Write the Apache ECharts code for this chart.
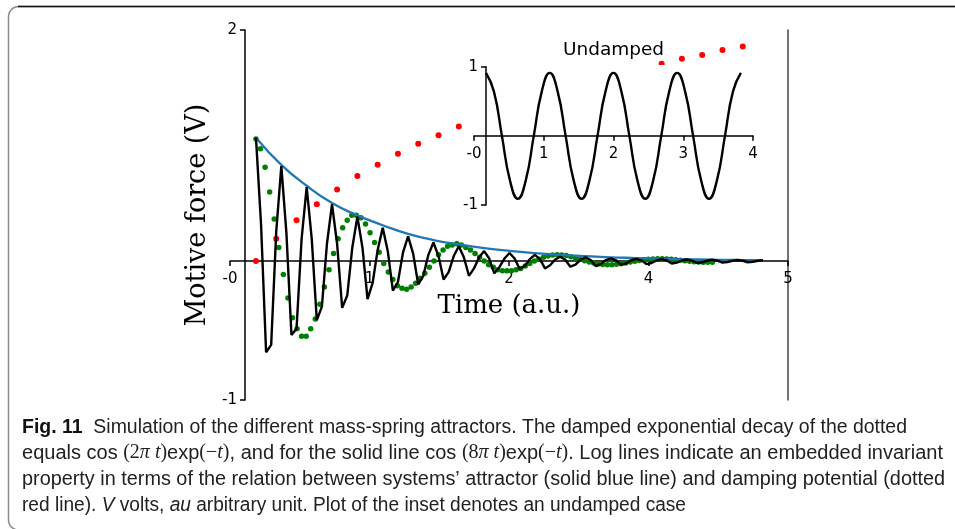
<!DOCTYPE html>
<html>
<head>
<meta charset="utf-8">
<script src="https://cdn.jsdelivr.net/npm/echarts@6/dist/echarts.min.js"></script>
<style>
	html, body { margin: 0; padding: 0; background: #fff; }
	#chart { width: 955px; height: 529px; }
</style>
</head>
<body>
<div id="chart"></div>
<script>
// tick labels as printed on the figure
var xTickLabels = ['-0', '1', '2', '4', '5'];
var yTickLabels = ['-1', '2'];
var insetXTickLabels = ['-0', '1', '2', '3', '4'];
var insetYTickLabels = ['-1', '1'];

// solid black line, sampled every 0.05 time units from t = 0
var blackStep = 0.05;
var blackValues = [
	1.00, 0.30, -0.74, -0.68, 0.24,  0.77, 0.23, -0.60, -0.55, 0.18,
	0.60, 0.18, -0.48, -0.37, 0.14,  0.46, 0.14, -0.38, -0.28, 0.11,
	0.36, 0.11, -0.31, -0.18, 0.09,  0.27, 0.08, -0.24, -0.17, 0.07,
	0.20, 0.06, -0.19, -0.12, 0.05,  0.15, 0.04, -0.15, -0.09, 0.04,
	0.12, 0.03, -0.12, -0.06, 0.03,  0.08, 0.02, -0.10, -0.05, 0.02,
	0.065, 0.02, -0.065, -0.04, 0.015,  0.05, 0.015, -0.06, -0.035, 0.012,
	0.035, 0.01, -0.046, -0.03, 0.01,  0.03, 0.008, -0.041, -0.025, 0.008,
	0.022, 0.006, -0.03, -0.02, 0.006,  0.018, 0.005, -0.025, -0.016, 0.005,
	0.015, 0.004, -0.02, -0.013, 0.004,  0.012, 0.003, -0.016, -0.01, 0.003,
	0.01, 0.003, -0.013, -0.008, 0.002,  0.008, 0.002, -0.01, -0.006, 0.002,
	0.006
];

// green dots, every 0.045 time units from t = 0
var greenStep = 0.045;
var greenValues = [
	0.99, 0.91, 0.76, 0.56, 0.34, 0.11, -0.11, -0.30, -0.46, -0.55,
	-0.61, -0.61, -0.55, -0.47, -0.35, -0.21, -0.07, 0.06, 0.18, 0.27,
	0.33, 0.37, 0.37, 0.35, 0.30, 0.23, 0.15, 0.07, -0.02, -0.09,
	-0.15, -0.20, -0.22, -0.23, -0.21, -0.18, -0.14, -0.10, -0.05, 0.00,
	0.05, 0.09, 0.12, 0.13, 0.14, 0.13, 0.11, 0.09, 0.06, 0.03,
	0.00, -0.03, -0.05, -0.07, -0.08, -0.08, -0.08, -0.07, -0.06, -0.04,
	-0.02, 0.00, 0.015, 0.03, 0.04, 0.048, 0.05, 0.049, 0.044, 0.035,
	0.025, 0.014, 0.002, -0.008, -0.017, -0.024, -0.029, -0.031, -0.03, -0.027,
	-0.022, -0.016, -0.009, -0.002, 0.004, 0.01, 0.014, 0.017, 0.018, 0.018,
	0.017, 0.014, 0.01, 0.006, 0.002, -0.002, -0.006, -0.008, -0.01, -0.011,
	-0.011
];

// blue envelope
var blueTimes = [0, 0.25, 0.5, 0.75, 1, 1.25, 1.5, 1.75, 2, 2.25, 2.5, 2.75, 3, 3.25, 3.5, 3.75, 4, 4.25, 4.5, 4.75, 5];
var blueValues = [1.00, 0.78, 0.61, 0.47, 0.37, 0.29, 0.22, 0.17, 0.135, 0.105, 0.082, 0.064, 0.05, 0.039, 0.03, 0.024, 0.018, 0.014, 0.011, 0.009, 0.007];

// red dots (the ones behind the inset are not visible)
var redTimes = [0, 0.2, 0.4, 0.6, 0.8, 1.0, 1.2, 1.4, 1.6, 1.8, 2.0, 4.0, 4.2, 4.4, 4.6, 4.8];
var redValues = [0, 0.18, 0.33, 0.46, 0.58, 0.69, 0.78, 0.87, 0.95, 1.02, 1.09, 1.60, 1.64, 1.67, 1.71, 1.74];

// inset: undamped case, every 1/8 period
var insetStep = 0.125;
var insetValues = [
	0.91, 0.64, 0, -0.64, -0.91, -0.64, 0, 0.64,
	0.91, 0.64, 0, -0.64, -0.91, -0.64, 0, 0.64,
	0.91, 0.64, 0, -0.64, -0.91, -0.64, 0, 0.64,
	0.91, 0.64, 0, -0.64, -0.91, -0.64, 0, 0.64,
	0.91
];

function spread(min, max, n) {
	var a = [];
	for (var i = 0; i < n; i++) a.push(min + (max - min) * i / (n - 1));
	return a;
}
function labeler(ticks, labels) {
	return function(v) {
		var best = 0;
		for (var i = 1; i < ticks.length; i++) {
			if (Math.abs(ticks[i] - v) < Math.abs(ticks[best] - v)) best = i;
		}
		return labels[best];
	};
}
function pairs(step, values) {
	var out = [];
	for (var i = 0; i < values.length; i++) out.push([+(i * step).toFixed(4), values[i]]);
	return out;
}
function zip(xs, ys) {
	var out = [];
	for (var i = 0; i < xs.length; i++) out.push([xs[i], ys[i]]);
	return out;
}

var X_MIN = -0.256, X_MAX = 5.246, Y_MIN = -1.127, Y_MAX = 1.873;
var IX_MIN = -0.188, IX_MAX = 4.19, IY_MIN = -1, IY_MAX = 1;
var xTicks = spread(X_MIN, X_MAX, xTickLabels.length);
var yTicks = [Y_MIN, Y_MAX];
var ixTicks = spread(IX_MIN, IX_MAX, insetXTickLabels.length);
var iyTicks = [IY_MIN, IY_MAX];

var tickFont = { fontFamily: 'DejaVu Sans', fontSize: 15, color: '#000' };
var axisLine = { color: '#000', width: 1.5 };

// caption, one entry per printed line: [style, text] pieces
var sans = "'Liberation Sans', sans-serif";
var serif = "'Liberation Serif', serif";
var capStyles = {
	b: { fontFamily: sans, fontSize: 20, fontWeight: 'bold', fill: '#111' },
	n: { fontFamily: sans, fontSize: 20, fill: '#222' },
	i: { fontFamily: sans, fontSize: 20, fontStyle: 'italic', fill: '#222' },
	m: { fontFamily: serif, fontSize: 20, fill: '#222' },
	mi: { fontFamily: serif, fontSize: 20, fontStyle: 'italic', fill: '#222' }
};
var captionLines = [
	[['b', 'Fig. 11'], ['n', '  Simulation of the different mass-spring attractors. The damped exponential decay of the dotted']],
	[['n', 'equals cos '], ['m', '(2'], ['mi', 'π t'], ['m', ')'], ['n', 'exp'], ['m', '(−'], ['mi', 't'], ['m', ')'],
	 ['n', ', and for the solid line cos '], ['m', '(8'], ['mi', 'π t'], ['m', ')'], ['n', 'exp'], ['m', '(−'], ['mi', 't'], ['m', ')'],
	 ['n', '. Log lines indicate an embedded invariant']],
	[['n', 'property in terms of the relation between systems’ attractor (solid blue line) and damping potential (dotted']],
	[['n', 'red line). '], ['i', 'V'], ['n', ' volts, '], ['i', 'au'], ['n', ' arbitrary unit. Plot of the inset denotes an undamped case']]
];
var captionY = [427, 453, 479, 505];
var captionRight = [907, 943, 945, 686];
var CAPTION_LEFT = 22;

var measureCtx = document.createElement('canvas').getContext('2d');
function fontOf(s) {
	return (s.fontStyle || 'normal') + ' ' + (s.fontWeight || 'normal') + ' ' + s.fontSize + 'px ' + s.fontFamily;
}
function lineWidth(pieces) {
	var w = 0;
	pieces.forEach(function(p) {
		measureCtx.font = fontOf(capStyles[p[0]]);
		w += measureCtx.measureText(p[1]).width;
	});
	return w;
}

var graphics = [
	{ type: 'rect', shape: { x: 8.5, y: 6.5, width: 1000, height: 523.5, r: 10 },
		style: { fill: 'none', stroke: '#8c8c8c', lineWidth: 1.5 }, z: 1 },
	{ type: 'line', shape: { x1: 18, y1: 6.5, x2: 955, y2: 6.5 },
		style: { stroke: '#111', lineWidth: 1.5 }, z: 1 },
	// white face of the inset axes
	{ type: 'rect', shape: { x: 474, y: 65, width: 279, height: 140 },
		style: { fill: '#fff' }, z: 5 },
	{ type: 'text', x: 613.5, y: 50, z: 12,
		style: { text: 'Undamped', fontFamily: 'DejaVu Sans', fontSize: 18.5, fill: '#000', align: 'center', verticalAlign: 'middle' } }
];
captionLines.forEach(function(pieces, c) {
	var text = pieces.map(function(p) { return '{' + p[0] + '|' + p[1] + '}'; }).join('');
	graphics.push({ type: 'text', x: CAPTION_LEFT, y: captionY[c], z: 1,
		scaleX: (captionRight[c] - CAPTION_LEFT) / lineWidth(pieces),
		style: { text: text, rich: capStyles, verticalAlign: 'middle', align: 'left' } });
});

var myChart = echarts.init(document.getElementById('chart'));
var option = {
	animation: false,
	backgroundColor: '#fff',
	grid: [
		{ left: 230, top: 30, width: 558, height: 370 },
		{ left: 474, top: 66.7, width: 279, height: 138.3 }
	],
	xAxis: [{
		type: 'value', gridIndex: 0, min: X_MIN, max: X_MAX, position: 'bottom', offset: -139,
		axisLine: { onZero: false, lineStyle: axisLine },
		axisTick: { customValues: xTicks, length: 5, lineStyle: axisLine },
		axisLabel: Object.assign({ customValues: xTicks, formatter: labeler(xTicks, xTickLabels), margin: 11 }, tickFont),
		splitLine: { show: false },
		name: 'Time (a.u.)', nameLocation: 'middle', nameGap: 32,
		nameTextStyle: { fontFamily: 'DejaVu Serif', fontSize: 26, color: '#000' }
	}, {
		type: 'value', gridIndex: 1, min: IX_MIN, max: IX_MAX, z: 10, position: 'bottom', offset: -69.15,
		axisLine: { onZero: false, lineStyle: axisLine },
		axisTick: { customValues: ixTicks, length: 5, lineStyle: axisLine },
		axisLabel: Object.assign({ customValues: ixTicks, formatter: labeler(ixTicks, insetXTickLabels), margin: 11 }, tickFont),
		splitLine: { show: false }
	}],
	yAxis: [{
		type: 'value', gridIndex: 0, min: Y_MIN, max: Y_MAX, position: 'left', offset: -15,
		axisLine: { onZero: false, lineStyle: axisLine },
		axisTick: { customValues: yTicks, length: 5, lineStyle: axisLine },
		axisLabel: Object.assign({ customValues: yTicks, formatter: labeler(yTicks, yTickLabels), margin: 8 }, tickFont),
		splitLine: { show: false },
		name: 'Motive force (V)', nameLocation: 'middle', nameGap: 31,
		nameTextStyle: { fontFamily: 'DejaVu Serif', fontSize: 27, color: '#000' }
	}, {
		type: 'value', gridIndex: 0, min: Y_MIN, max: Y_MAX, position: 'right',
		axisLine: { show: true, onZero: false, lineStyle: { color: '#444', width: 1.5 } },
		axisTick: { show: false }, axisLabel: { show: false }, splitLine: { show: false }
	}, {
		type: 'value', gridIndex: 1, min: IY_MIN, max: IY_MAX, position: 'left', offset: -12, z: 10,
		axisLine: { onZero: false, lineStyle: axisLine },
		axisTick: { customValues: iyTicks, length: 5, lineStyle: axisLine },
		axisLabel: Object.assign({ customValues: iyTicks, formatter: labeler(iyTicks, insetYTickLabels), margin: 8 }, tickFont),
		splitLine: { show: false }
	}],
	graphic: graphics,
	series: [{
		type: 'scatter', xAxisIndex: 0, yAxisIndex: 0, z: 2,
		symbolSize: 5.5, itemStyle: { color: '#008000', opacity: 1 },
		data: pairs(greenStep, greenValues)
	}, {
		type: 'scatter', xAxisIndex: 0, yAxisIndex: 0, z: 2,
		symbolSize: 6, itemStyle: { color: '#ff0000', opacity: 1 },
		data: zip(redTimes, redValues)
	}, {
		type: 'line', xAxisIndex: 0, yAxisIndex: 0, z: 3, smooth: true, symbol: 'none',
		lineStyle: { color: '#1f77b4', width: 2.3 },
		data: zip(blueTimes, blueValues)
	}, {
		type: 'line', xAxisIndex: 0, yAxisIndex: 0, z: 4, symbol: 'none',
		lineStyle: { color: '#000', width: 2.4 },
		data: pairs(blackStep, blackValues)
	}, {
		type: 'line', xAxisIndex: 1, yAxisIndex: 2, z: 11, smooth: true, symbol: 'none',
		lineStyle: { color: '#000', width: 2.4 },
		data: pairs(insetStep, insetValues)
	}]
};
myChart.setOption(option);
</script>
</body>
</html>
